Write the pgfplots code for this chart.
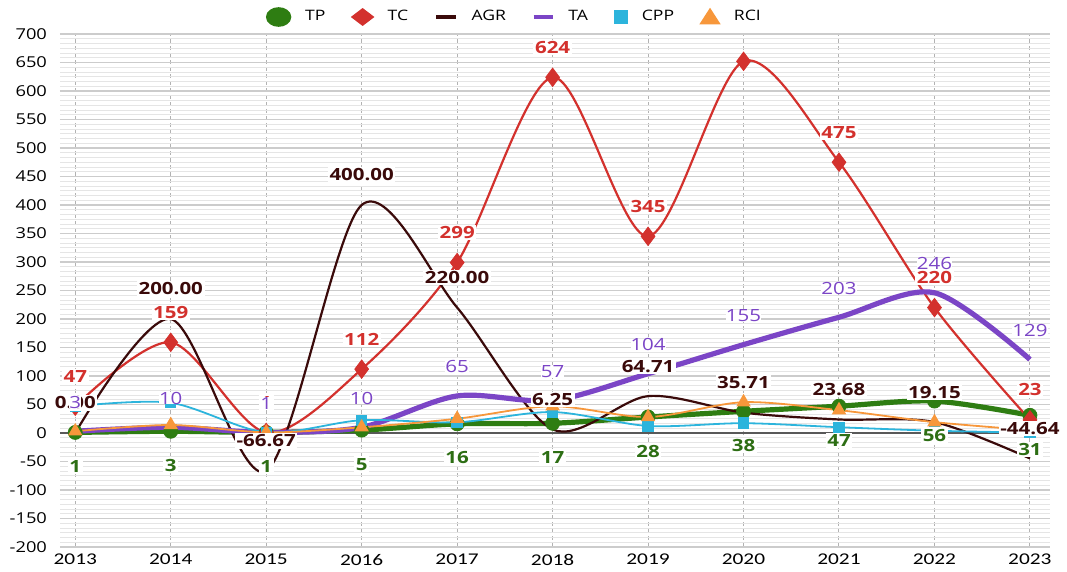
\documentclass[border=0pt]{standalone}
\usepackage{pgfplots}
\pgfplotsset{compat=1.18}
\usepackage{pgfplotstable}
\usepackage{fontspec}
\setmainfont{Open Sans}[FakeStretch=1.22]
\newfontfamily\xfont{Carlito}[FakeStretch=1.3]

\definecolor{tp}{HTML}{2E7D12}
\definecolor{tplab}{HTML}{2D6E14}
\definecolor{tc}{HTML}{D3312D}
\definecolor{agr}{HTML}{3A0A0A}
\definecolor{ta}{HTML}{7B45C6}
\definecolor{cpp}{HTML}{2CB4DC}
\definecolor{rci}{HTML}{F7973B}

\pgfplotstableread{
year TP TC AGR TA CPP RCI
2013 1 47 0.00 3 47 3
2014 3 159 200.00 10 53 14
2015 1 1 -66.67 1 1 1
2016 5 112 400.00 10 22.4 10
2017 16 299 220.00 65 18.69 25
2018 17 624 6.25 57 36.71 47
2019 28 345 64.71 104 12.32 28
2020 38 652 35.71 155 17.16 54
2021 47 475 23.68 203 10.11 40
2022 56 220 19.15 246 3.93 19
2023 31 23 -44.64 129 0.74 5
}\data

\begin{document}
\begin{tikzpicture}
\begin{axis}[
  scale only axis, width=495pt, height=256.5pt,
  xmin=2012.84, xmax=2023.21, ymin=-200, ymax=700,
  xtick={2013,...,2023}, ytick={-200,-150,...,700},
  minor x tick num=5, minor y tick num=5,
  grid=both,
  major x grid style={draw=gray!60, dash pattern=on 2pt off 1.5pt, line width=0.5pt},
  minor x grid style={draw=gray!22, line width=0.5pt},
  major y grid style={draw=gray!40, line width=0.7pt},
  minor y grid style={draw=gray!20, line width=0.45pt},
  axis line style={draw=none},
  tick style={draw=none},
  /pgf/number format/assume math mode=true,
  /pgf/number format/1000 sep={},
  xticklabel style={font=\xfont\fontsize{8.2}{9}\selectfont},
  yticklabel style={font=\fontsize{7.5}{8}\selectfont, xshift=-3pt},
  extra y ticks={0}, extra y tick labels={},
  extra y tick style={grid=major, major y grid style={draw=gray!70!black, line width=0.7pt}},
  legend columns=6,
  legend cell align=left,
  legend style={at={(0.46,1)}, anchor=center, yshift=8.5pt, draw=none, fill=none,
    font=\fontsize{7.2}{8}\selectfont,
    /tikz/every even column/.append style={column sep=11pt},
    /tikz/every odd column/.append style={column sep=5pt}},
]
\addplot[tp, line width=2.6pt, smooth, mark=*, mark size=3.5pt,
  mark options={solid, fill=tp, draw=tp, line width=0.4pt},
  legend image code/.code={\fill[tp] (0.2cm,0) ellipse (5pt and 3.6pt);}]
  table[x=year,y=TP]{\data};
\addlegendentry{TP}
\addplot[tc, line width=1.1pt, smooth, mark=diamond*, mark size=4.6pt,
  mark options={solid, fill=tc, draw=tc, line width=0.4pt},
  legend image code/.code={\fill[tc] (0.2cm,0)+(-5pt,0) -- +(0,3.8pt) -- +(5pt,0) -- +(0,-3.8pt) -- cycle;}]
  table[x=year,y=TC]{\data};
\addlegendentry{TC}
\addplot[agr, line width=1.1pt, smooth, no markers,
  legend image code/.code={\draw[agr, line width=2pt] (0.03cm,0) -- (0.37cm,0);}]
  table[x=year,y=AGR]{\data};
\addlegendentry{AGR}
\addplot[ta, line width=2.6pt, smooth, no markers,
  legend image code/.code={\draw[ta, line width=1.6pt] (0.03cm,0) -- (0.37cm,0);}]
  table[x=year,y=TA]{\data};
\addlegendentry{TA}
\addplot[cpp, line width=0.9pt, smooth, mark=square*, mark size=2.4pt,
  mark options={solid, fill=cpp, draw=cpp},
  legend image code/.code={\fill[cpp] (0.2cm,0)+(-3pt,-3pt) rectangle +(3pt,3pt);}]
  table[x=year,y=CPP]{\data};
\addlegendentry{CPP}
\addplot[rci, line width=0.9pt, smooth, mark=triangle*, mark size=3.3pt,
  mark options={solid, fill=rci, draw=rci},
  legend image code/.code={\fill[rci] (0.2cm,0)+(-4.5pt,-3.2pt) -- +(0,3.8pt) -- +(4.5pt,-3.2pt) -- cycle;}]
  table[x=year,y=RCI]{\data};
\addlegendentry{RCI}

% data labels
\addplot[only marks, mark=none, forget plot, nodes near coords, point meta=explicit symbolic,
  every node near coord/.append style={anchor=center, yshift=-17pt, fill=white, inner sep=0.8pt,
    text=tplab, font=\bfseries\fontsize{8.4}{9}\selectfont}]
  table[x=year,y=TP,meta=TP]{\data};
\addplot[only marks, mark=none, forget plot, nodes near coords, point meta=explicit symbolic,
  skip coords between index={7}{8},
  every node near coord/.append style={anchor=center, yshift=15pt, fill=white, inner sep=0.8pt,
    text=tc, font=\bfseries\fontsize{8.4}{9}\selectfont}]
  table[x=year,y=TC,meta=TC]{\data};
\addplot[only marks, mark=none, forget plot, nodes near coords, point meta=explicit symbolic,
  every node near coord/.append style={anchor=center, yshift=15pt, fill=white, inner sep=0.8pt,
    text=agr, font=\bfseries\fontsize{8.4}{9}\selectfont}]
  table[x=year,y=AGR,meta=AGR]{\data};
\addplot[only marks, mark=none, forget plot, nodes near coords, point meta=explicit symbolic,
  every node near coord/.append style={anchor=center, yshift=14.5pt, fill=white, inner sep=0pt,
    text=ta, font=\fontsize{8.4}{9}\selectfont}]
  table[x=year,y=TA,meta=TA]{\data};
\end{axis}
\pgfresetboundingbox
\path ([shift={(-30pt,-12.5pt)}]current axis.south west) rectangle ([shift={(8.5pt,17pt)}]current axis.north east);
\end{tikzpicture}
\end{document}
